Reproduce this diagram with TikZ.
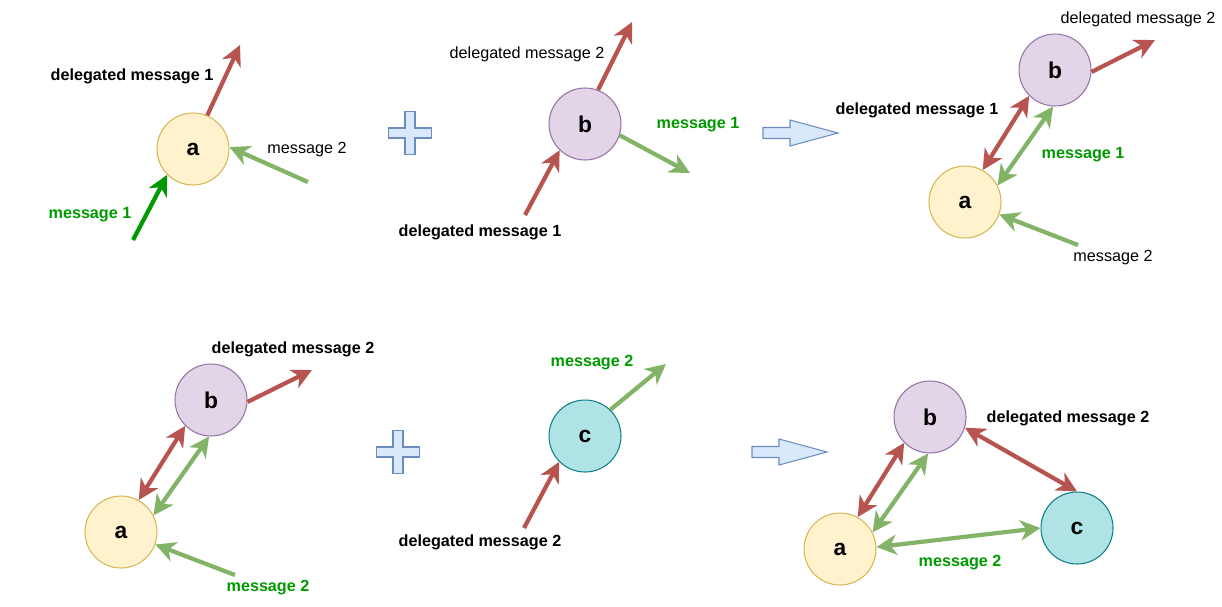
\documentclass[tikz,border=0pt]{standalone}
\usepackage{fontspec}
\setmainfont{Liberation Sans}
\usepackage{xcolor}
\usepackage{tikz}
\usetikzlibrary{arrows.meta}

\definecolor{yfill}{HTML}{FFF2CC}
\definecolor{ydraw}{HTML}{D6B656}
\definecolor{pfill}{HTML}{E1D5E7}
\definecolor{pdraw}{HTML}{9673A6}
\definecolor{cfill}{HTML}{B0E3E6}
\definecolor{cdraw}{HTML}{0E8088}
\definecolor{redline}{HTML}{B85450}
\definecolor{greenline}{HTML}{82B366}
\definecolor{darkgreen}{HTML}{009900}
\definecolor{bfill}{HTML}{DAE8FC}
\definecolor{bdraw}{HTML}{6C8EBF}

\begin{document}
\begin{tikzpicture}[
  x=0.02cm, y=-0.02cm,
  peer/.style={circle, draw, line width=0.6pt, minimum size=1.44cm, inner sep=0pt, font=\fontsize{13}{15}\selectfont\bfseries},
  peerA/.style={peer, fill=yfill, draw=ydraw},
  peerB/.style={peer, fill=pfill, draw=pdraw},
  peerC/.style={peer, fill=cfill, draw=cdraw},
  redmsg/.style={draw=redline, line width=2.4pt, -{Stealth[length=11.5pt, width=11.5pt, inset=3.5pt]}},
  redboth/.style={draw=redline, line width=2.4pt, {Stealth[length=11.5pt, width=11.5pt, inset=3.5pt]}-{Stealth[length=11.5pt, width=11.5pt, inset=3.5pt]}},
  grmsg/.style={draw=greenline, line width=2.4pt, -{Stealth[length=11.5pt, width=11.5pt, inset=3.5pt]}},
  grboth/.style={draw=greenline, line width=2.4pt, {Stealth[length=11.5pt, width=11.5pt, inset=3.5pt]}-{Stealth[length=11.5pt, width=11.5pt, inset=3.5pt]}},
  dkmsg/.style={draw=darkgreen, line width=2.4pt, -{Stealth[length=11.5pt, width=11.5pt, inset=3.5pt]}},
  plainlbl/.style={inner sep=0pt, font=\fontsize{9.2}{11}\selectfont},
  boldlbl/.style={inner sep=0pt, font=\fontsize{9.2}{11}\selectfont\bfseries},
  greenlbl/.style={boldlbl, text=darkgreen},
  blocky/.style={fill=bfill, draw=bdraw, line width=0.6pt}
]
  \useasboundingbox (0,0) rectangle (1222,606);

  % first row
  \node[peerA] (a1) at (193,149) {a};
  \coordinate (a1dm) at (240,45);
  \coordinate (a1m1) at (133,240);
  \coordinate (a1m2) at (308,182);
  \draw[redmsg] (a1.67) -- (a1dm);
  \draw[dkmsg] (a1m1) -- (a1.225);
  \draw[grmsg] (a1m2) -- (a1.3);
  \node[boldlbl] (l1dm) at (132,76) {delegated message 1};
  \node[greenlbl] (l1m1) at (90,215) {message 1};
  \node[plainlbl] (l1m2) at (307,150) {message 2};

  \node[peerB] (b2) at (585,124) {b};
  \coordinate (b2dm2) at (632,22);
  \coordinate (b2dm1) at (525,215);
  \coordinate (b2m1) at (690,173);
  \draw[redmsg] (b2.69) -- (b2dm2);
  \draw[redmsg] (b2dm1) -- (b2.226);
  \draw[grmsg] (b2.342) -- (b2m1);
  \node[plainlbl] (l2dm2) at (527,54) {delegated message 2};
  \node[boldlbl] (l2dm1) at (480,232) {delegated message 1};
  \node[greenlbl] (l2m1) at (698,125) {message 1};

  \node[peerB] (b3) at (1055,70) {b};
  \node[peerA] (a3) at (965,202) {a};
  \coordinate (b3dm2) at (1155,40);
  \coordinate (a3m2) at (1078,245);
  \draw[redmsg] (b3.357) -- (b3dm2);
  \draw[redboth] (a3.61) -- (b3.225);
  \draw[grboth] (a3.27) -- (b3.267);
  \draw[grmsg] (a3m2) -- (a3.340);
  \node[plainlbl] (l3dm2) at (1138,19) {delegated message 2};
  \node[boldlbl] (l3dm1) at (917,110) {delegated message 1};
  \node[greenlbl] (l3m1) at (1083,155) {message 1};
  \node[plainlbl] (l3m2) at (1113,258) {message 2};

  % second row
  \node[peerB] (b4) at (211,400) {b};
  \node[peerA] (a4) at (121,532) {a};
  \coordinate (b4dm2) at (312,370);
  \coordinate (a4m2) at (235,575);
  \draw[redmsg] (b4.357) -- (b4dm2);
  \draw[redboth] (a4.61) -- (b4.225);
  \draw[grboth] (a4.27) -- (b4.267);
  \draw[grmsg] (a4m2) -- (a4.340);
  \node[boldlbl] (l4dm2) at (293,349) {delegated message 2};
  \node[greenlbl] (l4m2) at (268,588) {message 2};

  \node[peerC] (c5) at (585,436) {c};
  \coordinate (c5m2) at (666,364);
  \coordinate (c5dm2) at (524,528);
  \draw[grmsg] (c5.46) -- (c5m2);
  \draw[redmsg] (c5dm2) -- (c5.225);
  \node[greenlbl] (l5m2) at (592,363) {message 2};
  \node[boldlbl] (l5dm2) at (480,542) {delegated message 2};

  \node[peerB] (b6) at (930,417) {b};
  \node[peerA] (a6) at (840,549) {a};
  \node[peerC] (c6) at (1077,528) {c};
  \draw[redboth] (a6.61) -- (b6.225);
  \draw[grboth] (a6.27) -- (b6.267);
  \draw[redboth] (b6.343) -- (c6.90);
  \draw[grboth] (a6.3) -- (c6.180);
  \node[boldlbl] (l6dm2) at (1068,418) {delegated message 2};
  \node[greenlbl] (l6m2) at (960,563) {message 2};

  % plus signs and block arrows
  \foreach \p in {(410,133),(398,452)}
    \draw[blocky, shift={\p}] (-5,-21.5) -- (5,-21.5) -- (5,-5) -- (21.5,-5) -- (21.5,5) -- (5,5)
      -- (5,21.5) -- (-5,21.5) -- (-5,5) -- (-21.5,5) -- (-21.5,-5) -- (-5,-5) -- cycle;
  \foreach \p in {(763,133),(752,452)}
    \draw[blocky, shift={\p}] (0,-5.5) -- (27,-5.5) -- (27,-13) -- (75,0) -- (27,13) -- (27,5.5)
      -- (0,5.5) -- cycle;
\end{tikzpicture}
\end{document}
